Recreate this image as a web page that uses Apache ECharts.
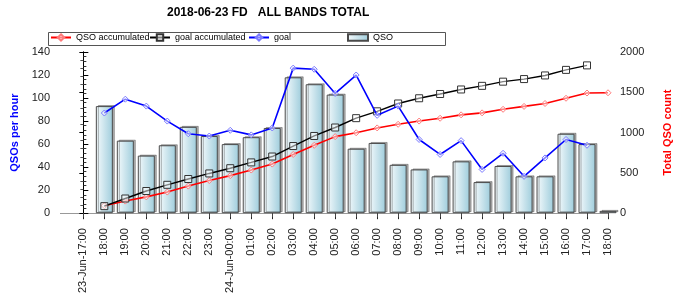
<!DOCTYPE html>
<html>
<head>
<meta charset="utf-8">
<script src="https://cdn.jsdelivr.net/npm/echarts@6/dist/echarts.min.js"></script>
<style>
  html, body { margin: 0; padding: 0; background: #fff; }
  #chart { width: 681px; height: 296px; }
</style>
</head>
<body>
<div id="chart"></div>
<script>
// x labels, index 0 = 23-Jun 17:00 ... index 25 = 24-Jun 18:00
const hours = ["23-Jun-17:00", "18:00", "19:00", "20:00", "21:00", "22:00", "23:00",
  "24-Jun-00:00", "01:00", "02:00", "03:00", "04:00", "05:00", "06:00", "07:00", "08:00",
  "09:00", "10:00", "11:00", "12:00", "13:00", "14:00", "15:00", "16:00", "17:00", "18:00"]

// QSOs per hour (bars), from 18:00
const qso = [93, 63, 50, 59, 75, 67, 60, 66, 74, 118, 112, 103, 56, 61, 42, 38, 32, 45, 27, 41, 32, 32, 69, 60, 2]
// running totals, right axis
const qsoAccum = [93, 150, 202, 262, 336, 405, 466, 535, 609, 729, 842, 950, 998, 1058, 1103, 1143,
  1178, 1220, 1245, 1289, 1325, 1361, 1426, 1491, 1494]
const goalAccum = [87, 182, 275, 352, 424, 493, 558, 630, 703, 833, 958, 1063, 1179, 1264, 1361, 1426,
  1479, 1535, 1580, 1632, 1664, 1709, 1778, 1834]
// goal per hour, left axis
const goal = [87, 99, 93, 80, 69, 67, 72, 68, 74, 126, 125, 104, 120, 85, 93, 64, 51, 63, 38, 52, 32, 48, 64, 59]

const leftTicks = [0, 20, 40, 60, 80, 100, 120, 140]
const rightTicks = [0, 500, 1000, 1500, 2000]
const legendNames = ["QSO accumulated", "goal accumulated", "goal", "QSO"]

// series start at 18:00 -> index 1
const toPairs = (arr) => arr.map((v, i) => [i + 1, v])
const tickIdx = hours.map((h, i) => i)
const font = "Liberation Sans, Arial, sans-serif"

const chart = echarts.init(document.getElementById("chart"))

// one legend per item so each sits in its own slot inside the box
const legends = legendNames.map((name, i) => ({
  left: 50 + i * 99,
  top: 33,
  padding: 0,
  itemWidth: 20,
  itemHeight: 8,
  z: 10,
  textStyle: { fontSize: 9, color: "#000", fontFamily: font },
  data: [name === "QSO" ? { name: name, icon: "path://M0,0H19V6H0Z" } : { name: name }]
}))

const option = {
  animation: false,
  backgroundColor: "#fff",
  textStyle: { fontFamily: font },
  title: {
    text: "2018-06-23 FD   ALL BANDS TOTAL",
    left: 167,
    top: 7,
    padding: 0,
    textStyle: { fontSize: 12, fontWeight: "bold", color: "#000", fontFamily: font }
  },
  graphic: [
    {
      type: "rect",
      left: 48,
      top: 32,
      z: 5,
      shape: { width: 397, height: 13 },
      style: { fill: "#fff", stroke: "#555", lineWidth: 1 }
    }
  ],
  legend: legends,
  grid: { left: 61, right: 57, top: 52, bottom: 79 },
  xAxis: [
    {
      type: "value",
      position: "bottom",
      min: -1.065,
      max: 25,
      splitLine: { show: false },
      axisLine: { show: true, lineStyle: { color: "#000" } },
      axisTick: { show: true, length: 6, customValues: tickIdx, lineStyle: { color: "#222" } },
      axisLabel: {
        rotate: 90,
        margin: 15,
        fontSize: 11,
        color: "#222",
        customValues: tickIdx,
        formatter: (v) => hours[Math.round(v)]
      }
    },
    {
      type: "value",
      position: "top",
      min: -1.065,
      max: 25,
      splitLine: { show: false },
      axisLine: { show: true, lineStyle: { color: "#999" } },
      axisTick: { show: true, inside: true, length: 4, customValues: tickIdx, lineStyle: { color: "#444" } },
      axisLabel: { show: false }
    }
  ],
  yAxis: [
    {
      type: "value",
      min: 0,
      max: 140,
      interval: 20,
      position: "left",
      name: "QSOs per hour",
      nameLocation: "middle",
      nameGap: 36,
      nameTextStyle: { color: "#0000ff", fontWeight: "bold", fontSize: 11, fontFamily: font },
      splitLine: { show: false },
      axisLine: { show: true, lineStyle: { color: "#000" } },
      axisTick: { show: true, inside: true, length: 5, lineStyle: { color: "#000" } },
      minorTick: { show: true, splitNumber: 5, length: 3, lineStyle: { color: "#333" } },
      axisLabel: { margin: 11, fontSize: 11, color: "#222", customValues: leftTicks }
    },
    {
      type: "value",
      min: 0,
      max: 2000,
      interval: 500,
      position: "right",
      name: "Total QSO count",
      nameLocation: "middle",
      nameRotate: 90,
      nameGap: 54,
      nameTextStyle: { color: "#ff0000", fontWeight: "bold", fontSize: 11, fontFamily: font },
      splitLine: { show: false },
      axisLine: { show: true, lineStyle: { color: "#000" } },
      axisTick: { show: true, inside: true, length: 4, lineStyle: { color: "#000" } },
      minorTick: { show: true, splitNumber: 5, length: 3, lineStyle: { color: "#555" } },
      axisLabel: {
        margin: 12,
        fontSize: 11,
        color: "#222",
        customValues: rightTicks,
        formatter: (v) => String(v)
      }
    }
  ],
  series: [
    {
      name: "QSO",
      type: "bar",
      xAxisIndex: 0,
      yAxisIndex: 0,
      barWidth: 17,
      clip: true,
      z: 1,
      itemStyle: {
        color: new echarts.graphic.LinearGradient(0, 0, 1, 0, [
          { offset: 0, color: "#f6fbfd" },
          { offset: 1, color: "#9fcddc" }
        ]),
        borderColor: "#4a4a4a",
        borderWidth: 1,
        shadowColor: "rgba(0,0,0,0.3)",
        shadowOffsetX: 2,
        shadowOffsetY: -1,
        shadowBlur: 0
      },
      data: toPairs(qso)
    },
    {
      name: "QSO accumulated",
      type: "line",
      yAxisIndex: 1,
      z: 3,
      symbol: "diamond",
      symbolSize: 6,
      lineStyle: { color: "#ff0000", width: 1.6 },
      itemStyle: { color: "rgba(255,255,255,0.5)", borderColor: "#ff7a7a", borderWidth: 1 },
      data: toPairs(qsoAccum)
    },
    {
      name: "goal accumulated",
      type: "line",
      yAxisIndex: 1,
      z: 4,
      symbol: "rect",
      symbolSize: 7,
      lineStyle: { color: "#000", width: 1.4 },
      itemStyle: { color: "rgba(255,255,255,0.5)", borderColor: "#333", borderWidth: 1 },
      data: toPairs(goalAccum)
    },
    {
      name: "goal",
      type: "line",
      yAxisIndex: 0,
      z: 5,
      symbol: "diamond",
      symbolSize: 6,
      lineStyle: { color: "#0000ff", width: 1.6 },
      itemStyle: { color: "rgba(255,255,255,0.5)", borderColor: "#7a7aff", borderWidth: 1 },
      data: toPairs(goal)
    }
  ]
}

chart.setOption(option)
</script>
</body>
</html>
